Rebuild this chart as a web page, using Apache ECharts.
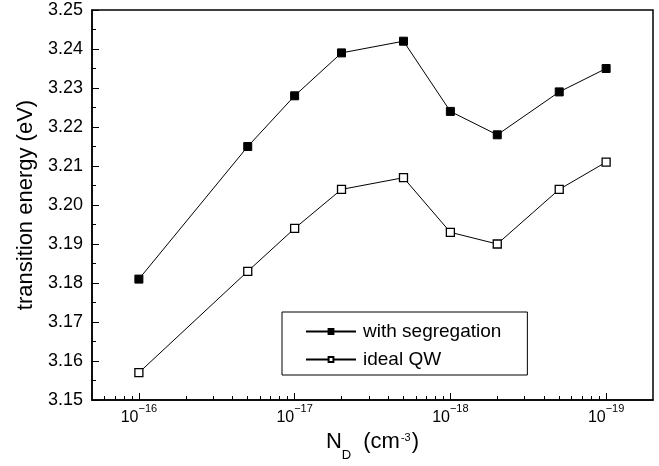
<!DOCTYPE html>
<html lang="en">
    <head>
        <meta charset="UTF-8" />
        <title>Transition energy vs N_D</title>
        <script src="https://cdn.jsdelivr.net/npm/echarts@6.0.0/dist/echarts.min.js"></script>
        <style>
            body,
            html {
                margin: 0;
                padding: 0;
                width: 100%;
                height: 100%;
                overflow: hidden;
                background-color: #fff;
            }
            #main {
                width: 659px;
                height: 466px;
            }
        </style>
    </head>
    <body>
        <div id="main"></div>
        <script>
            const FONT = "Liberation Sans"

            // doping density (cm^-3)
            const density = [1e16, 5e16, 1e17, 2e17, 5e17, 1e18, 2e18, 5e18, 1e19]
            const withSegregation = [3.181, 3.215, 3.228, 3.239, 3.242, 3.224, 3.218, 3.229, 3.235]
            const idealQW = [3.157, 3.183, 3.194, 3.204, 3.207, 3.193, 3.19, 3.204, 3.211]
            const seriesNames = ["with segregation", "ideal QW"]

            // log-spaced minor ticks on the x axis
            const minorTicks = [
                6e15, 7e15, 8e15, 9e15,
                2e16, 3e16, 4e16, 5e16, 6e16, 7e16, 8e16, 9e16,
                2e17, 3e17, 4e17, 5e17, 6e17, 7e17, 8e17, 9e17,
                2e18, 3e18, 4e18, 5e18, 6e18, 7e18, 8e18, 9e18,
            ]
            const majorTicks = [1e16, 1e17, 1e18, 1e19]

            const chart = echarts.init(document.getElementById("main"), null, { renderer: "canvas" })

            const pairs = (ys) => density.map((x, i) => [x, ys[i]])

            const option = {
                animation: false,
                textStyle: { fontFamily: FONT },
                grid: {
                    left: 92,
                    right: 6,
                    top: 10,
                    bottom: 66,
                    outerBoundsMode: "none",
                    containLabel: false,
                    show: true,
                    borderColor: "#000",
                    borderWidth: 1.5,
                },
                legend: {
                    left: 282,
                    top: 312,
                    orient: "vertical",
                    padding: [10, 26, 6, 23],
                    itemGap: 9,
                    itemWidth: 50,
                    itemHeight: 6,
                    borderColor: "#000",
                    borderWidth: 1,
                    backgroundColor: "#fff",
                    textStyle: { fontFamily: FONT, fontSize: 19, color: "#000", padding: [0, 0, 0, 2] },
                    data: seriesNames,
                },
                xAxis: [
                    {
                        type: "log",
                        logBase: 10,
                        min: 5e15,
                        max: 2e19,
                        name: "{n|N}{sub|D}{n|(cm}{sup|-3}{n|)}",
                        nameLocation: "middle",
                        nameGap: 30,
                        nameTextStyle: {
                            rich: {
                                n: { fontFamily: FONT, fontSize: 22, color: "#000", verticalAlign: "top" },
                                sub: { fontFamily: FONT, fontSize: 13, color: "#000", verticalAlign: "top", padding: [18, 12, 0, 0] },
                                sup: { fontFamily: FONT, fontSize: 11, color: "#000", verticalAlign: "top", padding: [2, 1, 0, 1] },
                            },
                        },
                        axisLine: { show: true, lineStyle: { color: "#000", width: 1.5 } },
                        axisTick: { show: true, inside: true, length: 7, customValues: majorTicks, lineStyle: { color: "#000", width: 1 } },
                        splitLine: { show: false },
                        axisLabel: {
                            customValues: majorTicks,
                            margin: 3,
                            formatter: (v) => "{b|10}{s|−" + Math.round(Math.log10(v)) + "}",
                            rich: {
                                b: { fontFamily: FONT, fontSize: 16, color: "#000", verticalAlign: "top", padding: [7, 0, 0, 0] },
                                s: { fontFamily: FONT, fontSize: 11, color: "#000", verticalAlign: "top" },
                            },
                        },
                    },
                    {
                        type: "log",
                        logBase: 10,
                        min: 5e15,
                        max: 2e19,
                        position: "bottom",
                        axisLine: { show: false },
                        axisLabel: { show: false },
                        splitLine: { show: false },
                        axisTick: { show: true, inside: true, length: 4, customValues: minorTicks, lineStyle: { color: "#000", width: 1 } },
                    },
                ],
                yAxis: {
                    type: "value",
                    min: 3.15,
                    max: 3.25,
                    interval: 0.01,
                    name: "transition energy (eV)",
                    nameLocation: "middle",
                    nameGap: 53,
                    nameTextStyle: { fontFamily: FONT, fontSize: 22, color: "#000" },
                    axisLine: { show: true, lineStyle: { color: "#000", width: 1.5 } },
                    axisTick: { show: true, inside: true, length: 7, lineStyle: { color: "#000", width: 1 } },
                    minorTick: { show: true, splitNumber: 2, length: 4, lineStyle: { color: "#000", width: 1 } },
                    splitLine: { show: false },
                    axisLabel: {
                        fontFamily: FONT,
                        fontSize: 18,
                        color: "#000",
                        margin: 9,
                        formatter: (v) => v.toFixed(2),
                    },
                },
                series: [
                    {
                        name: seriesNames[0],
                        type: "line",
                        data: pairs(withSegregation),
                        symbol: "rect",
                        symbolSize: 8,
                        itemStyle: { color: "#000", borderColor: "#000", borderWidth: 1 },
                        lineStyle: { color: "#000", width: 1 },
                    },
                    {
                        name: seriesNames[1],
                        type: "line",
                        data: pairs(idealQW),
                        symbol: "rect",
                        symbolSize: 8,
                        itemStyle: { color: "#fff", borderColor: "#000", borderWidth: 1.3 },
                        lineStyle: { color: "#000", width: 1 },
                    },
                ],
            }
            chart.setOption(option)
        </script>
    </body>
</html>
